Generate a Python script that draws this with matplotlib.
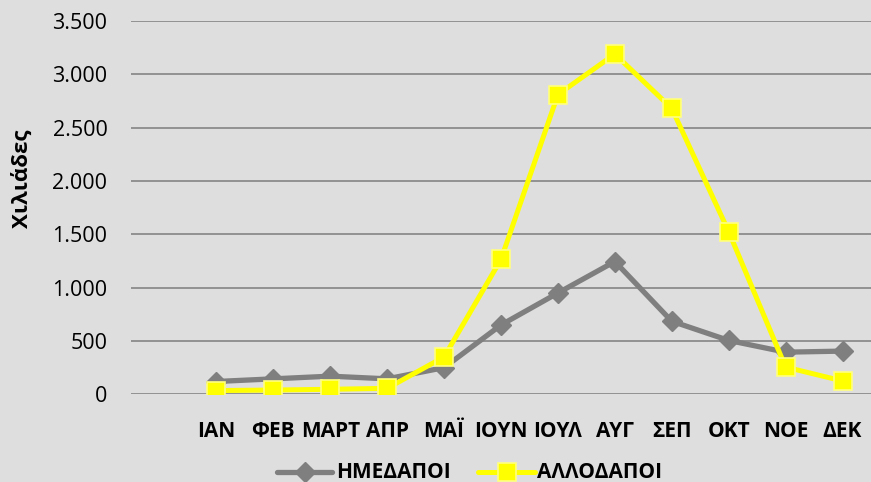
import matplotlib
matplotlib.use("Agg")
import matplotlib.pyplot as plt
from matplotlib.ticker import FuncFormatter
from matplotlib.lines import Line2D

months = ["ΙΑΝ", "ΦΕΒ", "ΜΑΡΤ", "ΑΠΡ", "ΜΑΪ", "ΙΟΥΝ", "ΙΟΥΛ", "ΑΥΓ", "ΣΕΠ", "ΟΚΤ", "ΝΟΕ", "ΔΕΚ"]
domestic = [120, 145, 170, 145, 250, 650, 950, 1245, 685, 505, 395, 405]
foreign = [35, 40, 47, 56, 350, 1265, 2810, 3190, 2680, 1525, 255, 125]
yticks = [0, 500, 1000, 1500, 2000, 2500, 3000, 3500]
series_names = ["ΗΜΕΔΑΠΟΙ", "ΑΛΛΟΔΑΠΟΙ"]

bg = "#dedede"
W, H = 871, 482
fig = plt.figure(figsize=(W/100, H/100), dpi=100, facecolor=bg)
ax = fig.add_axes([131/W, 1-394.3/H, 1-131/W, (394.3-21)/H], facecolor=bg)

gray_style = dict(color="#7f7f7f", lw=3.8, marker="D", ms=10, mfc="#7f7f7f", mec="#7f7f7f",
                  solid_joinstyle="round", solid_capstyle="round")
yel_style = dict(color="#ffff00", lw=3.6, marker="s", ms=13.5, mfc="#ffff00", mec="#ffff80", mew=1.2,
                 solid_joinstyle="round", solid_capstyle="round")

x = list(range(len(months)))
ax.plot(x, domestic, zorder=3, **gray_style)
ax.plot(x, foreign, zorder=4, **yel_style)

ax.set_xlim(-1.5, len(months) - 0.5)
ax.set_ylim(0, 3500)
ax.set_yticks(yticks)
ax.yaxis.set_major_formatter(FuncFormatter(lambda v, p: f"{int(v):,}".replace(",", ".")))
ax.set_xticks(x)
ax.set_xticklabels(months, fontfamily="Open Sans", fontweight="bold", fontsize=15)
for lbl in ax.get_yticklabels():
    lbl.set_fontfamily("Open Sans")
    lbl.set_fontsize(15.5)
ax.tick_params(axis="both", length=0)
ax.tick_params(axis="y", pad=17)
ax.tick_params(axis="x", pad=19)
ax.grid(axis="y", color="#8c8c8c", lw=1.3)
ax.set_axisbelow(True)
for s in ax.spines.values():
    s.set_visible(False)

fig.text(22/W, 1-179/H, "Χιλιάδες", rotation=90, ha="center", va="center",
         fontfamily="Open Sans", fontweight="bold", fontsize=16)

# legend drawn manually
ly = 1-472/H
fig.add_artist(Line2D([277/W, 332/W], [ly, ly], transform=fig.transFigure,
                      markevery=[], **gray_style))
fig.add_artist(Line2D([304.5/W], [ly], transform=fig.transFigure, ls="none",
                      marker="D", ms=10, mfc="#7f7f7f", mec="#7f7f7f"))
fig.text(336/W, ly, series_names[0], ha="left", va="center",
         fontfamily="Open Sans", fontweight="bold", fontsize=15)
fig.add_artist(Line2D([478/W, 535/W], [ly, ly], transform=fig.transFigure,
                      markevery=[], **yel_style))
fig.add_artist(Line2D([506.5/W], [ly], transform=fig.transFigure, ls="none",
                      marker="s", ms=13.5, mfc="#ffff00", mec="#ffff80", mew=1.2))
fig.text(537/W, ly, series_names[1], ha="left", va="center",
         fontfamily="Open Sans", fontweight="bold", fontsize=15)

fig.savefig("out.png", dpi=100, facecolor=bg)
